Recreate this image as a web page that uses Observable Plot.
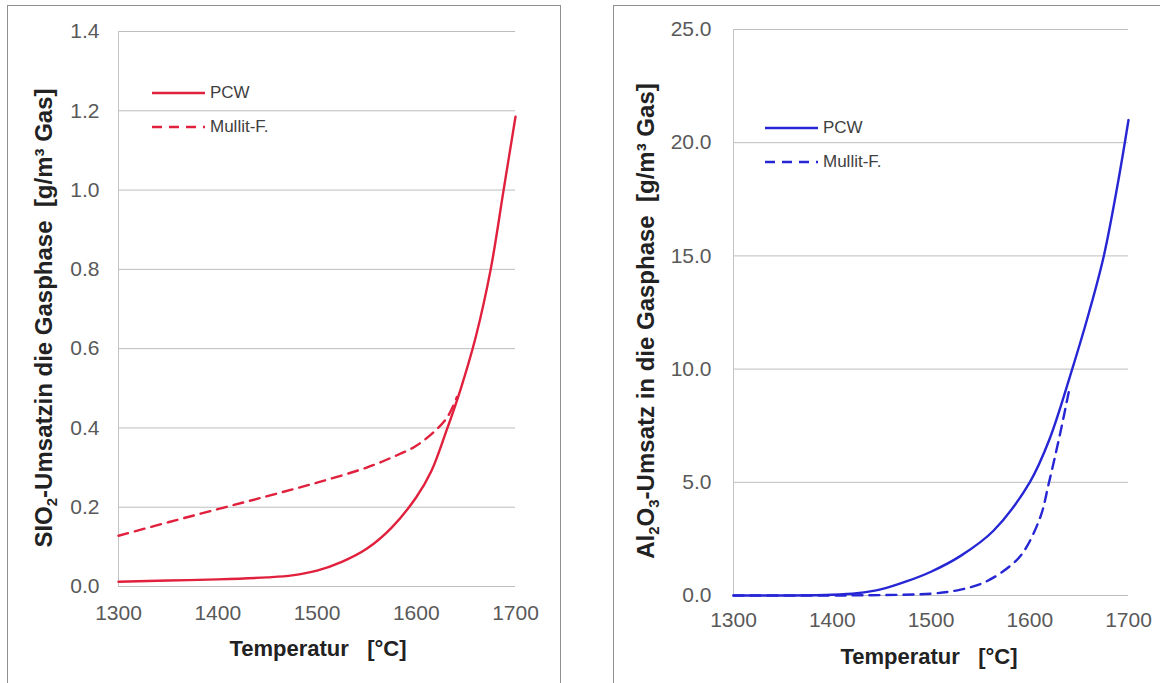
<!DOCTYPE html>
<html>
<head>
<meta charset="utf-8">
<script src="https://cdn.jsdelivr.net/npm/d3@7"></script>
<script src="https://cdn.jsdelivr.net/npm/@observablehq/plot@0.6"></script>
<style>
  html, body { margin:0; padding:0; background:#fff; }
  body { width:1160px; height:683px; position:relative; overflow:hidden; font-family:"Liberation Sans", Arial, sans-serif; }
  .frame { position:absolute; border:1.5px solid #8f8f8f; background:#fff; }
  .panel { position:absolute; top:0; }
  .legend { position:absolute; font-size:17px; color:#404040; }
  .legend .row { position:absolute; display:flex; align-items:center; white-space:nowrap; }
  .legend svg { display:block; margin-right:5px; }
</style>
</head>
<body>
<div class="frame" style="left:7px; top:5px; width:552px; height:700px;"></div>
<div class="frame" style="left:613px; top:5px; width:570px; height:700px;"></div>
<div id="left" class="panel" style="left:0px;"></div>
<div id="right" class="panel" style="left:580px;"></div>
<script>
// ---- data ----
const xTicks = [1300, 1400, 1500, 1600, 1700];
const ySiTicks = [0, 0.2, 0.4, 0.6, 0.8, 1.0, 1.2, 1.4];
const yAlTicks = [0, 5, 10, 15, 20, 25];

const seriesNames = ["PCW", "Mullit-F."];

// SiO2 – PCW
const tSiPCW = [1300, 1350, 1400, 1450, 1475, 1500, 1525, 1550, 1575, 1600, 1615, 1630, 1645, 1660, 1675, 1688, 1700];
const vSiPCW = [0.012, 0.015, 0.018, 0.023, 0.028, 0.040, 0.062, 0.095, 0.148, 0.225, 0.29, 0.39, 0.50, 0.63, 0.80, 1.0, 1.185];
// SiO2 – Mullit-F.
const tSiMul = [1300, 1350, 1400, 1450, 1500, 1550, 1575, 1600, 1622, 1632, 1641];
const vSiMul = [0.128, 0.162, 0.195, 0.228, 0.262, 0.300, 0.325, 0.355, 0.40, 0.43, 0.478];

// Al2O3 – PCW
const tAlPCW = [1300, 1350, 1400, 1425, 1450, 1475, 1500, 1530, 1563, 1600, 1620, 1643, 1660, 1675, 1690, 1700];
const vAlPCW = [0, 0, 0.03, 0.1, 0.28, 0.62, 1.05, 1.75, 2.85, 5.0, 6.9, 10.0, 12.5, 15.0, 18.4, 21.0];
// Al2O3 – Mullit-F.
const tAlMul = [1300, 1400, 1450, 1500, 1530, 1555, 1580, 1594, 1611, 1619, 1631, 1640];
const vAlMul = [0, 0, 0.02, 0.08, 0.26, 0.6, 1.3, 1.95, 3.5, 4.9, 7.2, 9.1];

const red = "#e0203c";
const blue = "#2626d4";
const dashPattern = "10,7";

const zip = (ts, vs) => ts.map((t, i) => ({t, v: vs[i]}));

function panel({width, height, mL, mR, mT, mB, yDomain, yTicks, yFmt, pcw, mul, color, xPad, yPad}) {
  return Plot.plot({
    width, height,
    marginLeft: mL, marginRight: mR, marginTop: mT, marginBottom: mB,
    style: {fontFamily: '"Liberation Sans", Arial, sans-serif', fontSize: "21px", color: "#595959", background: "transparent", overflow: "visible"},
    x: {domain: [1300, 1700]},
    y: {domain: yDomain},
    marks: [
      Plot.gridY(yTicks, {stroke: "#bdbdbd", strokeOpacity: 1, strokeWidth: 1}),
      Plot.ruleX([1300], {stroke: "#c4c4c4", strokeWidth: 1}),
      Plot.axisX(xTicks, {tickSize: 0, tickPadding: xPad, label: null, tickFormat: d => String(d)}),
      Plot.axisY(yTicks, {tickSize: 0, tickPadding: yPad, label: null, tickFormat: yFmt}),
      Plot.line(pcw, {x: "t", y: "v", stroke: color, strokeWidth: 2.4, curve: "catmull-rom"}),
      Plot.line(mul, {x: "t", y: "v", stroke: color, strokeWidth: 2.4, strokeDasharray: dashPattern, curve: "catmull-rom"})
    ]
  });
}

const left = panel({
  width: 560, height: 683, mL: 118, mR: 45, mT: 31, mB: 97,
  yDomain: [0, 1.4], yTicks: ySiTicks, yFmt: d => d.toFixed(1),
  pcw: zip(tSiPCW, vSiPCW), mul: zip(tSiMul, vSiMul), color: red, xPad: 19, yPad: 19
});
const right = panel({
  width: 580, height: 683, mL: 153, mR: 32, mT: 29, mB: 88,
  yDomain: [0, 25], yTicks: yAlTicks, yFmt: d => d.toFixed(1),
  pcw: zip(tAlPCW, vAlPCW), mul: zip(tAlMul, vAlMul), color: blue, xPad: 17, yPad: 22
});
document.getElementById("left").appendChild(left);
document.getElementById("right").appendChild(right);

// axis titles (with sub/superscripts)
function addTitles(svg, xt, yt) {
  const s = d3.select(svg);
  s.append("text")
    .attr("x", xt.x).attr("y", xt.y)
    .attr("text-anchor", "middle")
    .attr("font-weight", "bold").attr("font-size", 22).attr("fill", "#222")
    .text("Temperatur\u00a0\u00a0 [°C]");
  const t = s.append("text")
    .attr("transform", `translate(${yt.x},${yt.y}) rotate(-90)`)
    .attr("text-anchor", "middle")
    .attr("font-weight", "bold").attr("font-size", 24).attr("fill", "#222");
  yt.parts.forEach(p => {
    const ts = t.append("tspan").text(p.text);
    if (p.sub) ts.attr("font-size", 15).attr("dy", 5);
    if (p.after) ts.attr("dy", -5);
  });
}
addTitles(left, {x: 318, y: 656}, {x: 52, y: 318, parts: [
  {text: "SIO"}, {text: "2", sub: true}, {text: "-Umsatzin die Gasphase\u00a0\u00a0[g/m³ Gas]", after: true}
]});
addTitles(right, {x: 349, y: 664}, {x: 74, y: 321, parts: [
  {text: "Al"}, {text: "2", sub: true}, {text: "O", after: true}, {text: "3", sub: true}, {text: "-Umsatz in die Gasphase\u00a0\u00a0[g/m³ Gas]", after: true}
]});

// legends
function legend(x, y, color, gap) {
  const div = document.createElement("div");
  div.className = "legend";
  div.style.left = x + "px";
  div.style.top = y + "px";
  seriesNames.forEach((name, i) => {
    const row = document.createElement("div");
    row.className = "row";
    row.style.top = (i * gap - 10) + "px";
    row.style.left = "0px";
    const dash = i === 0 ? "" : `stroke-dasharray="${dashPattern}"`;
    row.innerHTML = `<svg width="53" height="20"><line x1="0" x2="53" y1="10" y2="10" stroke="${color}" stroke-width="2.4" ${dash}/></svg><span>${name}</span>`;
    div.appendChild(row);
  });
  document.body.appendChild(div);
}
legend(152, 93, red, 34);
legend(765, 128, blue, 34);
</script>
</body>
</html>
